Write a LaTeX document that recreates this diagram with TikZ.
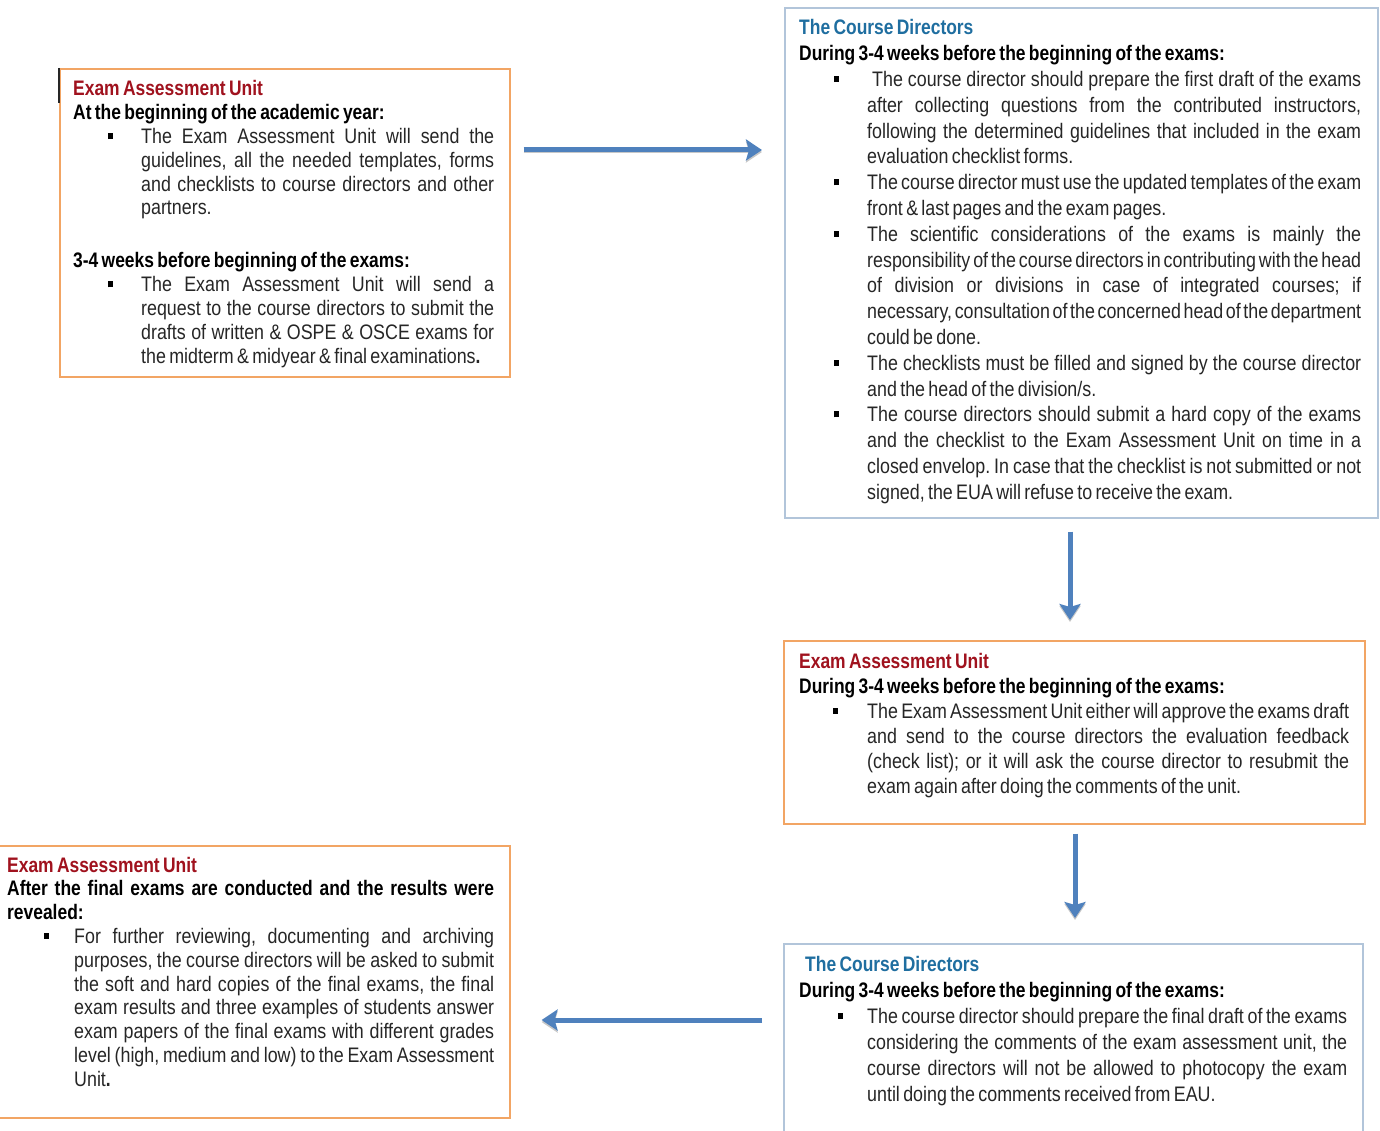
\documentclass[tikz,border=0pt]{standalone}
\usepackage{fontspec}
\setmainfont{Liberation Sans}[FakeStretch=0.85, BoldFeatures={FakeStretch=0.83}]
\usetikzlibrary{arrows.meta}

\definecolor{eauRed}{RGB}{160,18,30}
\definecolor{cdBlue}{RGB}{31,110,160}
\definecolor{eauFrame}{RGB}{242,165,100}
\definecolor{cdFrame}{RGB}{178,197,218}
\definecolor{flowBlue}{RGB}{79,129,189}
\definecolor{bodyText}{RGB}{38,38,38}

% indents inside a text block: bullet position and text position
\newlength\bulind
\newlength\txtind
\newcommand\sqb{\rule[4.5pt]{5pt}{6pt}}
\newcommand\linesp[1]{\fontsize{21}{#1}\selectfont\parindent=0pt\parskip=0pt\frenchspacing}
% a line whose interword spaces stretch (or shrink) to fill the given width
\newcommand\fillto[2]{\hbox to #1{\spaceskip=\fontdimen2\font plus 1fil minus 0.6\fontdimen2\font
  \xspaceskip=\spaceskip #2}}
\newcommand\ttl[2]{\noindent{\bfseries\color{#1}#2}}
\newcommand\hd[1]{\par\noindent{\bfseries\color{black}#1}}
\newcommand\hdj[1]{\par\noindent{\bfseries\color{black}\fillto{\hsize}{#1}}}
\newcommand\bjl[1]{\par\noindent\hspace*{\bulind}\makebox[\dimexpr\txtind-\bulind\relax][l]{\color{black}\sqb}%
  {\color{bodyText}\fillto{\dimexpr\hsize-\txtind\relax}{#1}}}
\newcommand\jl[1]{\par\noindent\hspace*{\txtind}{\color{bodyText}\fillto{\dimexpr\hsize-\txtind\relax}{#1}}}
\newcommand\el[1]{\par\noindent\hspace*{\txtind}{\color{bodyText}#1}}

\tikzset{
  eauframe/.style={draw=eauFrame, line width=1.6pt, fill=white, anchor=north west, inner sep=0pt},
  cdframe/.style={draw=cdFrame, line width=1.6pt, fill=white, anchor=north west, inner sep=0pt},
  boxtext/.style={anchor=base west, inner sep=0pt, text width=#1, text=bodyText},
  flow/.style={draw=flowBlue, line width=5pt,
    -{Stealth[length=16pt, width=21pt, inset=3pt]},
    preaction={draw=black!22, transform canvas={yshift=-2pt}}}
}

\begin{document}
\begin{tikzpicture}[x=1pt, y=-1pt]
  \useasboundingbox[fill=white] (0,0) rectangle (1380,1131);

  % frames
  \node[eauframe, minimum width=450, minimum height=308] (b1) at (59,68) {};
  \node[cdframe,  minimum width=593, minimum height=510] (b2) at (784,7) {};
  \node[eauframe, minimum width=581, minimum height=183] (b3) at (783,640) {};
  \node[cdframe,  minimum width=579, minimum height=200] (b4) at (783,943) {};
  \node[eauframe, minimum width=519, minimum height=272] (b5) at (-10,845) {};
  \draw[line width=1.8pt, black!85] (b1.north west) -- ++(0,35);

  % step 1
  \node[boxtext=421pt] (t1) at (73,96) {\linesp{23.8}%
    \setlength\bulind{35pt}\setlength\txtind{68pt}%
    \ttl{eauRed}{Exam Assessment Unit}
    \hd{At the beginning of the academic year:}
    \bjl{The Exam Assessment Unit will send the}
    \jl{guidelines, all the needed templates, forms}
    \jl{and checklists to course directors and other}
    \el{partners.}
    \par\vspace{29.2pt}
    \hd{3-4 weeks before beginning of the exams:}
    \bjl{The Exam Assessment Unit will send a}
    \jl{request to the course directors to submit the}
    \jl{drafts of written \& OSPE \& OSCE exams for}
    \el{the midterm \& midyear \& final examinations\textbf{.}}\par};

  % step 2
  \node[boxtext=562pt] (t2) at (799,35) {\linesp{25.8}%
    \setlength\bulind{35pt}\setlength\txtind{68pt}%
    \ttl{cdBlue}{The Course Directors}
    \hd{During 3-4 weeks before the beginning of the exams:}
    \bjl{\hspace{5pt}The course director should prepare the first draft of the exams}
    \jl{after collecting questions from the contributed instructors,}
    \jl{following the determined guidelines that included in the exam}
    \el{evaluation checklist forms.}
    \bjl{The course director must use the updated templates of the exam}
    \el{front \& last pages and the exam pages.}
    \bjl{The scientific considerations of the exams is mainly the}
    \jl{responsibility of the course directors in contributing with the head}
    \jl{of division or divisions in case of integrated courses; if}
    \jl{necessary, consultation of the concerned head of the department}
    \el{could be done.}
    \bjl{The checklists must be filled and signed by the course director}
    \el{and the head of the division/s.}
    \bjl{The course directors should submit a hard copy of the exams}
    \jl{and the checklist to the Exam Assessment Unit on time in a}
    \jl{closed envelop. In case that the checklist is not submitted or not}
    \el{signed, the EUA will refuse to receive the exam.}\par};

  % step 3
  \node[boxtext=550pt] (t3) at (799,668) {\linesp{25}%
    \setlength\bulind{34pt}\setlength\txtind{68pt}%
    \ttl{eauRed}{Exam Assessment Unit}
    \hd{During 3-4 weeks before the beginning of the exams:}
    \bjl{The Exam Assessment Unit either will approve the exams draft}
    \jl{and send to the course directors the evaluation feedback}
    \jl{(check list); or it will ask the course director to resubmit the}
    \el{exam again after doing the comments of the unit.}\par};

  % step 4
  \node[boxtext=548pt] (t4) at (799,971) {\linesp{26}%
    \setlength\bulind{39pt}\setlength\txtind{68pt}%
    \ttl{cdBlue}{\hspace*{6pt}The Course Directors}
    \hd{During 3-4 weeks before the beginning of the exams:}
    \bjl{The course director should prepare the final draft of the exams}
    \jl{considering the comments of the exam assessment unit, the}
    \jl{course directors will not be allowed to photocopy the exam}
    \el{until doing the comments received from EAU.}\par};

  % step 5
  \node[boxtext=487pt] (t5) at (7,872) {\linesp{23.8}%
    \setlength\bulind{37pt}\setlength\txtind{67pt}%
    \ttl{eauRed}{Exam Assessment Unit}
    \hdj{After the final exams are conducted and the results were}
    \hd{revealed:}
    \bjl{For further reviewing, documenting and archiving}
    \jl{purposes, the course directors will be asked to submit}
    \jl{the soft and hard copies of the final exams, the final}
    \jl{exam results and three examples of students answer}
    \jl{exam papers of the final exams with different grades}
    \jl{level (high, medium and low) to the Exam Assessment}
    \el{Unit\textbf{.}}\par};

  % flow between the steps
  \coordinate (r1) at (0,150);
  \coordinate (d1) at (1070,0);
  \coordinate (d2) at (1075,0);
  \coordinate (r2) at (0,1020);
  \draw[flow, shorten <=13pt, shorten >=22pt] (b1.east |- r1) -- (b2.west |- r1);
  \draw[flow, shorten <=13pt, shorten >=20pt] (b2.south -| d1) -- (b3.north -| d1);
  \draw[flow, shorten <=9pt, shorten >=25pt] (b3.south -| d2) -- (b4.north -| d2);
  \draw[flow, shorten <=21pt, shorten >=31pt] (b4.west |- r2) -- (b5.east |- r2);
\end{tikzpicture}
\end{document}
